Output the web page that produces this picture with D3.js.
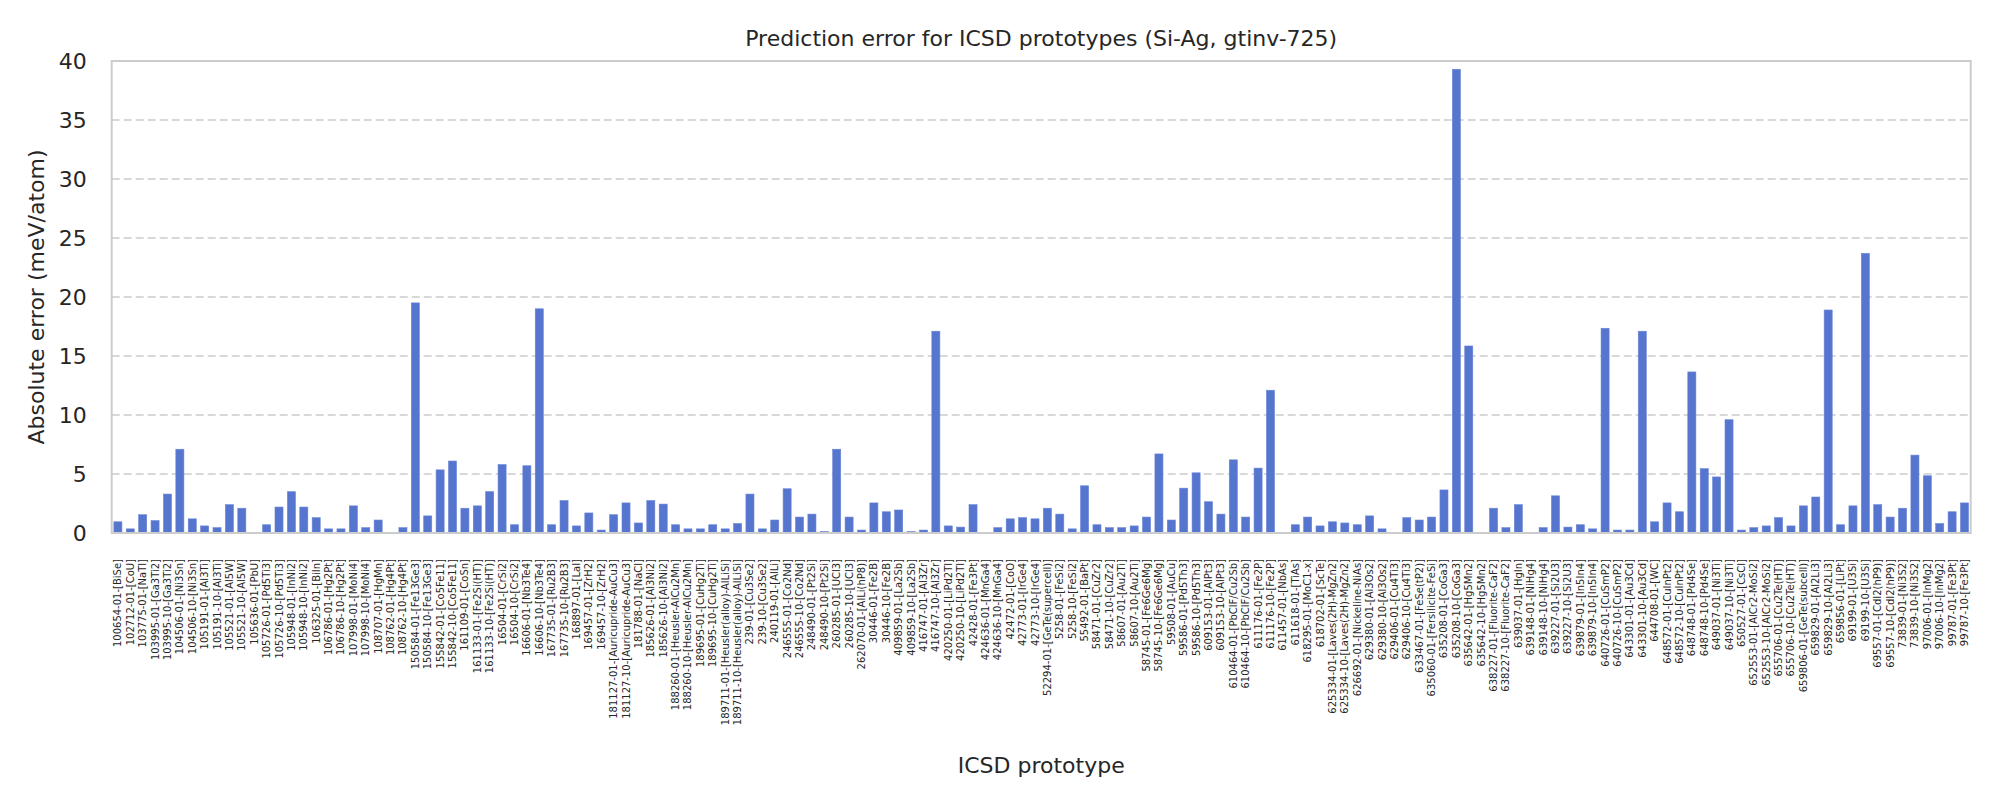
<!DOCTYPE html>
<html>
<head>
<meta charset="utf-8">
<script src="https://cdn.jsdelivr.net/npm/d3@7"></script>
<style>
  body { margin: 0; background: #ffffff; }
  svg { display: block; font-family: "DejaVu Sans", sans-serif; }
</style>
</head>
<body>
<svg id="chart" width="2000" height="800"></svg>
<script>
const categories = [
  "100654-01-[BiSe]","102712-01-[CoU]","103775-01-[NaTl]","103995-01-[Ga3Ti2]","103995-10-[Ga3Ti2]",
  "104506-01-[Ni3Sn]","104506-10-[Ni3Sn]","105191-01-[Al3Ti]","105191-10-[Al3Ti]","105521-01-[Al5W]",
  "105521-10-[Al5W]","105636-01-[PbU]","105726-01-[Pd5Ti3]","105726-10-[Pd5Ti3]","105948-01-[InNi2]",
  "105948-10-[InNi2]","106325-01-[BiIn]","106786-01-[Hg2Pt]","106786-10-[Hg2Pt]","107998-01-[MoNi4]",
  "107998-10-[MoNi4]","108707-01-[HgMn]","108762-01-[Hg4Pt]","108762-10-[Hg4Pt]","150584-01-[Fe13Ge3]",
  "150584-10-[Fe13Ge3]","155842-01-[Co5Fe11]","155842-10-[Co5Fe11]","161109-01-[CoSn]","161133-01-[Fe2Si(HT)]",
  "161133-10-[Fe2Si(HT)]","16504-01-[CrSi2]","16504-10-[CrSi2]","16606-01-[Nb3Te4]","16606-10-[Nb3Te4]",
  "167735-01-[Ru2B3]","167735-10-[Ru2B3]","168897-01-[LaI]","169457-01-[ZrH2]","169457-10-[ZrH2]",
  "181127-01-[Auricupride-AuCu3]","181127-10-[Auricupride-AuCu3]","181788-01-[NaCl]","185626-01-[Al3Ni2]","185626-10-[Al3Ni2]",
  "188260-01-[Heusler-AlCu2Mn]","188260-10-[Heusler-AlCu2Mn]","189695-01-[CuHg2Ti]","189695-10-[CuHg2Ti]","189711-01-[Heusler(alloy)-AlLiSi]",
  "189711-10-[Heusler(alloy)-AlLiSi]","239-01-[Cu3Se2]","239-10-[Cu3Se2]","240119-01-[AlLi]","246555-01-[Co2Nd]",
  "246555-10-[Co2Nd]","248490-01-[Pt2Si]","248490-10-[Pt2Si]","260285-01-[UCl3]","260285-10-[UCl3]",
  "262070-01-[AlLi(hP8)]","30446-01-[Fe2B]","30446-10-[Fe2B]","409859-01-[La2Sb]","409859-10-[La2Sb]",
  "416747-01-[Al3Zr]","416747-10-[Al3Zr]","420250-01-[LiPd2Tl]","420250-10-[LiPd2Tl]","42428-01-[Fe3Pt]",
  "424636-01-[MnGa4]","424636-10-[MnGa4]","42472-01-[CoO]","42773-01-[IrGe4]","42773-10-[IrGe4]",
  "52294-01-[GeTe(supercell)]","5258-01-[FeSi2]","5258-10-[FeSi2]","55492-01-[BaPt]","58471-01-[CuZr2]",
  "58471-10-[CuZr2]","58607-01-[Au2Ti]","58607-10-[Au2Ti]","58745-01-[Fe6Ge6Mg]","58745-10-[Fe6Ge6Mg]",
  "59508-01-[AuCu]","59586-01-[Pd5Th3]","59586-10-[Pd5Th3]","609153-01-[AlPt3]","609153-10-[AlPt3]",
  "610464-01-[PbClF/Cu2Sb]","610464-10-[PbClF/Cu2Sb]","611176-01-[Fe2P]","611176-10-[Fe2P]","611457-01-[NbAs]",
  "611618-01-[TiAs]","618295-01-[MoC1-x]","618702-01-[ScTe]","625334-01-[Laves(2H)-MgZn2]","625334-10-[Laves(2H)-MgZn2]",
  "626692-01-[Nickeline-NiAs]","629380-01-[Al3Os2]","629380-10-[Al3Os2]","629406-01-[Cu4Ti3]","629406-10-[Cu4Ti3]",
  "633467-01-[FeSe(tP2)]","635060-01-[Fersilicite-FeSi]","635208-01-[CoGa3]","635208-10-[CoGa3]","635642-01-[Hg5Mn2]",
  "635642-10-[Hg5Mn2]","638227-01-[Fluorite-CaF2]","638227-10-[Fluorite-CaF2]","639037-01-[HgIn]","639148-01-[NiHg4]",
  "639148-10-[NiHg4]","639227-01-[Si2U3]","639227-10-[Si2U3]","639879-01-[In5In4]","639879-10-[In5In4]",
  "640726-01-[CuSmP2]","640726-10-[CuSmP2]","643301-01-[Au3Cd]","643301-10-[Au3Cd]","644708-01-[WC]",
  "648572-01-[CuInPt2]","648572-10-[CuInPt2]","648748-01-[Pd4Se]","648748-10-[Pd4Se]","649037-01-[Ni3Ti]",
  "649037-10-[Ni3Ti]","650527-01-[CsCl]","652553-01-[AlCr2-MoSi2]","652553-10-[AlCr2-MoSi2]","655706-01-[Cu2Te(HT)]",
  "655706-10-[Cu2Te(HT)]","659806-01-[GeTe(subcell)]","659829-01-[Al2Li3]","659829-10-[Al2Li3]","659856-01-[LiPt]",
  "69199-01-[U3Si]","69199-10-[U3Si]","69557-01-[CdI2(hP9)]","69557-10-[CdI2(hP9)]","73839-01-[Ni3S2]",
  "73839-10-[Ni3S2]","97006-01-[InMg2]","97006-10-[InMg2]","99787-01-[Fe3Pt]","99787-10-[Fe3Pt]"
];

const errors = [
  0.95, 0.35, 1.55, 1.05, 3.3, 7.1, 1.2, 0.6, 0.45, 2.4,
  2.1, 0.05, 0.7, 2.2, 3.5, 2.2, 1.3, 0.35, 0.35, 2.3,
  0.45, 1.1, 0.05, 0.45, 19.5, 1.45, 5.35, 6.1, 2.1, 2.3,
  3.5, 5.8, 0.7, 5.7, 19.0, 0.7, 2.75, 0.6, 1.7, 0.25,
  1.55, 2.55, 0.85, 2.75, 2.45, 0.7, 0.35, 0.35, 0.7, 0.35,
  0.8, 3.3, 0.35, 1.1, 3.75, 1.35, 1.6, 0.12, 7.1, 1.35,
  0.25, 2.55, 1.8, 1.95, 0.12, 0.25, 17.1, 0.6, 0.5, 2.4,
  0.05, 0.45, 1.2, 1.3, 1.2, 2.1, 1.6, 0.35, 4.0, 0.7,
  0.45, 0.45, 0.6, 1.35, 6.7, 1.1, 3.8, 5.1, 2.65, 1.6,
  6.2, 1.35, 5.5, 12.1, 0.05, 0.7, 1.35, 0.6, 0.95, 0.85,
  0.7, 1.45, 0.35, 0.05, 1.3, 1.1, 1.35, 3.65, 39.3, 15.85,
  0.05, 2.1, 0.45, 2.4, 0.05, 0.45, 3.15, 0.5, 0.7, 0.35,
  17.35, 0.25, 0.25, 17.1, 0.95, 2.55, 1.8, 13.65, 5.45, 4.75,
  9.6, 0.25, 0.45, 0.6, 1.3, 0.6, 2.3, 3.05, 18.9, 0.7,
  2.3, 23.7, 2.4, 1.35, 2.1, 6.6, 4.85, 0.8, 1.8, 2.55
];

const yTicks = [0, 5, 10, 15, 20, 25, 30, 35, 40];
const titleText = "Prediction error for ICSD prototypes (Si-Ag, gtinv-725)";
const xLabelText = "ICSD prototype";
const yLabelText = "Absolute error (meV/atom)";

const svg = d3.select("#chart");
const margin = { left: 111.7, right: 2000 - 1970.7, top: 61, bottom: 800 - 533 };
const W = 2000, H = 800;

const x = d3.scaleBand()
  .domain(categories)
  .range([margin.left, W - margin.right])
  .paddingInner(0.35)
  .paddingOuter(0.175);

const y = d3.scaleLinear()
  .domain([0, 40])
  .range([H - margin.bottom, margin.top]);

// gridlines
svg.append("g")
  .selectAll("line")
  .data(yTicks.filter(t => t > 0 && t < 40))
  .join("line")
  .attr("x1", margin.left)
  .attr("x2", W - margin.right)
  .attr("y1", d => y(d))
  .attr("y2", d => y(d))
  .attr("stroke", "#cccccc")
  .attr("stroke-width", 1.3)
  .attr("stroke-dasharray", "8,4");

// bars
svg.append("g")
  .selectAll("rect")
  .data(categories.map((c, i) => ({ c, v: errors[i] })))
  .join("rect")
  .attr("x", d => x(d.c))
  .attr("width", x.bandwidth())
  .attr("y", d => y(d.v))
  .attr("height", d => y(0) - y(d.v))
  .attr("fill", "rgb(86,117,206)")
  .attr("stroke", "rgb(104,132,214)")
  .attr("stroke-width", 0.6);

// spines
svg.append("rect")
  .attr("x", margin.left)
  .attr("y", margin.top)
  .attr("width", W - margin.right - margin.left)
  .attr("height", H - margin.bottom - margin.top)
  .attr("fill", "none")
  .attr("stroke", "#cccccc")
  .attr("stroke-width", 2);

// y axis
const yAxis = d3.axisLeft(y).tickValues(yTicks).tickSize(0).tickPadding(25);
const yg = svg.append("g").attr("transform", `translate(${margin.left},0)`).call(yAxis);
yg.select(".domain").remove();
yg.selectAll("text")
  .attr("font-size", 22)
  .attr("font-family", "DejaVu Sans, sans-serif")
  .attr("fill", "#262626");

// x axis
const xAxis = d3.axisBottom(x).tickSize(0).tickPadding(0);
const xg = svg.append("g").attr("transform", `translate(0,${H - margin.bottom})`).call(xAxis);
xg.select(".domain").remove();
xg.selectAll("text")
  .attr("font-size", 10)
  .attr("font-family", "DejaVu Sans, sans-serif")
  .attr("fill", "#262626")
  .attr("text-anchor", "end")
  .attr("transform", "rotate(-90)")
  .attr("x", -26)
  .attr("y", 0)
  .attr("dy", "0.35em");

// title
svg.append("text")
  .attr("x", (margin.left + W - margin.right) / 2)
  .attr("y", 46)
  .attr("text-anchor", "middle")
  .attr("font-size", 22)
  .attr("fill", "#262626")
  .text(titleText);

// x label
svg.append("text")
  .attr("x", (margin.left + W - margin.right) / 2)
  .attr("y", 773)
  .attr("text-anchor", "middle")
  .attr("font-size", 22)
  .attr("fill", "#262626")
  .text(xLabelText);

// y label
svg.append("text")
  .attr("transform", `translate(36,${(margin.top + H - margin.bottom) / 2}) rotate(-90)`)
  .attr("text-anchor", "middle")
  .attr("dy", "0.35em")
  .attr("font-size", 22)
  .attr("fill", "#262626")
  .text(yLabelText);
</script>
</body>
</html>
